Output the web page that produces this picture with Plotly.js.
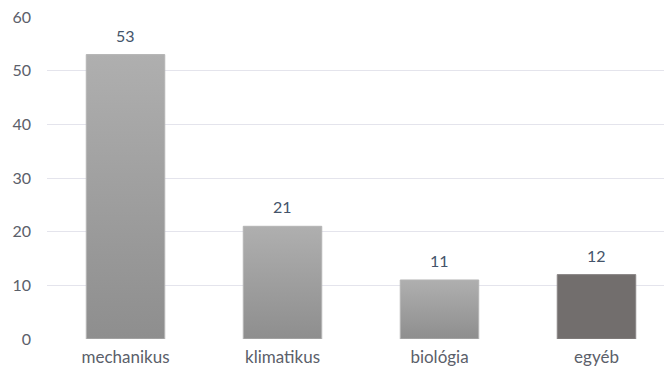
<!DOCTYPE html>
<html>
<head>
<meta charset="utf-8">
<script src="https://cdn.plot.ly/plotly-3.0.1.min.js"></script>
<style>
  html, body { margin: 0; padding: 0; background: #ffffff; }
  #chart { width: 664px; height: 371px; }
</style>
</head>
<body>
<div id="chart"></div>
<script>
// Categories and counts
const categories = ["mechanikus", "klimatikus", "biológia", "egyéb"];
const counts = [53, 21, 11, 12];
const yTicks = [0, 10, 20, 30, 40, 50, 60];

const barColors = ["#9e9e9e", "#9e9e9e", "#9e9e9e", "#726e6d"];
const fontFamily = "Lato, 'Open Sans', sans-serif";
const textColor = "#5b606a";

const trace = {
  type: "bar",
  x: categories,
  y: counts,
  marker: { color: barColors, line: { color: "#b5b5b5", width: 1 } },
  hoverinfo: "none"
};

// Value labels above each bar
const annotations = categories.map((c, i) => ({
  x: c, y: counts[i], xref: "x", yref: "y",
  text: String(counts[i]), showarrow: false,
  yanchor: "bottom", yshift: 8,
  font: { family: fontFamily, size: 16, color: "#44546a" }
}));

const layout = {
  width: 664, height: 371,
  margin: { l: 47, r: 0, t: 17, b: 32 },
  paper_bgcolor: "#ffffff",
  plot_bgcolor: "#ffffff",
  showlegend: false,
  bargap: 0.5,
  font: { family: fontFamily, size: 16, color: textColor },
  xaxis: {
    type: "category",
    range: [-0.5, 3.43],
    showgrid: false, zeroline: false, showline: false,
    ticks: "", tickfont: { family: fontFamily, size: 17, color: textColor },
    ticklabelstandoff: 6
  },
  yaxis: {
    range: [0, 60], tickvals: yTicks,
    showgrid: true, gridcolor: "#e4e4ec", gridwidth: 1,
    zeroline: false, showline: false, ticks: "",
    tickfont: { family: fontFamily, size: 16, color: textColor },
    ticklabelstandoff: 15
  },
  annotations: annotations
};

Plotly.newPlot("chart", [trace], layout, { staticPlot: true, displayModeBar: false }).then(gd => {
  // Vertical shading on the light bars: lighter at the top, darker at the base
  const svg = gd.querySelector("svg.main-svg");
  const ns = "http://www.w3.org/2000/svg";
  let defs = svg.querySelector("defs");
  if (!defs) { defs = document.createElementNS(ns, "defs"); svg.insertBefore(defs, svg.firstChild); }
  const grad = document.createElementNS(ns, "linearGradient");
  grad.setAttribute("id", "barShade");
  grad.setAttribute("x1", "0"); grad.setAttribute("y1", "0");
  grad.setAttribute("x2", "0"); grad.setAttribute("y2", "1");
  [["0", "#afafaf"], ["1", "#8e8e8e"]].forEach(([o, c]) => {
    const s = document.createElementNS(ns, "stop");
    s.setAttribute("offset", o); s.setAttribute("stop-color", c);
    grad.appendChild(s);
  });
  defs.appendChild(grad);
  gd.querySelectorAll(".bars .point path").forEach((p, i) => {
    if (i < 3) p.style.fill = "url(#barShade)";
    else p.style.stroke = "#8a8686";
  });
});
</script>
</body>
</html>
